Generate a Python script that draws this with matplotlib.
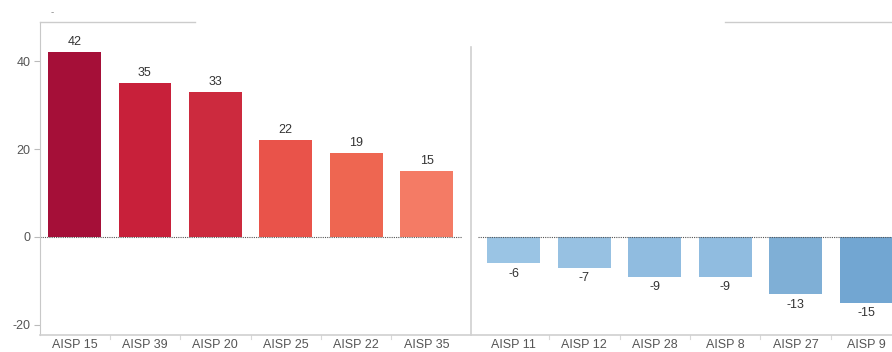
import matplotlib.pyplot as plt
from matplotlib.lines import Line2D
import numpy as np

plt.rcParams['font.family'] = ['Liberation Sans', 'DejaVu Sans']

# AISP areas above and below zero
top_names = ['AISP 15', 'AISP 39', 'AISP 20', 'AISP 25', 'AISP 22', 'AISP 35']
top_vals = [42, 35, 33, 22, 19, 15]
top_colors = ['#a50f38', '#c8203a', '#cc2a3e', '#e9534a', '#ee6651', '#f47b65']

low_names = ['AISP 11', 'AISP 12', 'AISP 28', 'AISP 8', 'AISP 27', 'AISP 9']
low_vals = [-6, -7, -9, -9, -13, -15]
low_colors = ['#9ac4e4', '#97c1e2', '#90bce0', '#90bce0', '#7fafd6', '#72a6d2']

yticks = [40, 20, 0, -20]

W, H = 892, 352
fig = plt.figure(figsize=(W / 100, H / 100), dpi=100)
ax = fig.add_axes([40 / W, 1 - 335 / H, 1 - 40 / W, (335 - 22) / H])

gap = 6.24
x_top = np.arange(len(top_vals))
x_low = np.arange(len(low_vals)) + gap

ax.bar(x_top, top_vals, width=0.75, color=top_colors)
ax.bar(x_low, low_vals, width=0.75, color=low_colors)

for x, v in zip(x_top, top_vals):
    ax.text(x, v + 1.0, str(v), ha='center', va='bottom', fontsize=9, color='#333333')
for x, v in zip(x_low, low_vals):
    ax.text(x, v - 1.0, str(v), ha='center', va='top', fontsize=9, color='#333333')

ax.set_xlim(-0.49, 11.61)
ax.set_ylim(-22.3, 48.9)

# dotted zero lines in each pane
ax.plot([-0.49, 5.5], [0, 0], ls=(0, (1, 1)), color='#555555', lw=0.8)
ax.plot([5.73, 11.61], [0, 0], ls=(0, (1, 1)), color='#555555', lw=0.8)

# pane divider
ax.plot([5.63, 5.63], [-22.3, 43.2], color='#d0d0d0', lw=1.2, clip_on=False)

ax.set_xticks(list(x_top) + list(x_low))
ax.set_xticklabels(top_names + low_names, fontsize=9, color='#555555')
ax.tick_params(axis='x', length=0, pad=3)
bounds = list(x_top[:-1] + 0.5) + list(x_low[:-1] + 0.5)
for b in bounds:
    ax.plot([b, b], [-22.3, -23.2], color='#d8d8d8', lw=0.8, clip_on=False)

ax.set_yticks(yticks)
ax.set_yticklabels([str(t) for t in yticks], fontsize=9, color='#555555')
ax.tick_params(axis='y', length=4, color='#bbbbbb', pad=3)

for s in ['top', 'right']:
    ax.spines[s].set_visible(False)
ax.spines['left'].set_color('#c8c8c8')
ax.spines['bottom'].set_color('#d0d0d0')
ax.spines['bottom'].set_linewidth(1.2)

# header rules
fig.add_artist(Line2D([40 / W, 195 / W], [1 - 22 / H, 1 - 22 / H], color='#cccccc', lw=1.0))
fig.add_artist(Line2D([725 / W, 1.0], [1 - 22 / H, 1 - 22 / H], color='#cccccc', lw=1.0))
fig.text(52 / W, 1 - 12 / H, '-', fontsize=7, color='#888888', ha='center', va='center')

fig.savefig('out.png', dpi=100)
